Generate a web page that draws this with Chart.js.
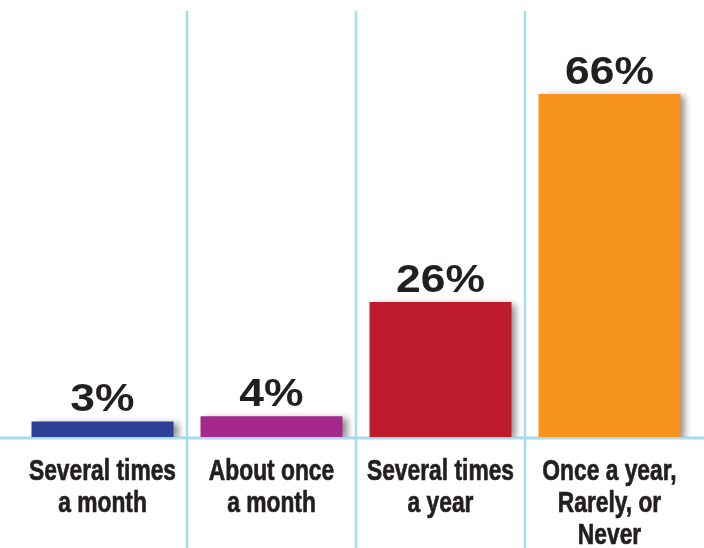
<!DOCTYPE html>
<html>
<head>
<meta charset="utf-8">
<script src="https://cdn.jsdelivr.net/npm/chart.js@4/dist/chart.umd.min.js"></script>
<style>
  html, body { margin: 0; padding: 0; background: #ffffff; }
  #wrap { width: 704px; height: 548px; position: relative; }
</style>
</head>
<body>
<div id="wrap"><canvas id="c" width="704" height="548"></canvas></div>
<script>
const categories = [
  ["Several times", "a month"],
  ["About once", "a month"],
  ["Several times", "a year"],
  ["Once a year,", "Rarely, or", "Never"]
];
const values = [3, 4, 26, 66];
const valueLabels = ["3%", "4%", "26%", "66%"];
const barColors = ["#2e3f97", "#a3298d", "#be1c2d", "#f7941d"];

const gridBlue = "#a9dbf0";
const textColor = "#231f20";

const decorPlugin = {
  id: "decor",
  beforeDatasetsDraw(chart) {
    const ctx = chart.ctx;
    const xs = chart.scales.x;
    const area = chart.chartArea;
    ctx.save();
    ctx.strokeStyle = gridBlue;
    ctx.lineWidth = 2.5;
    for (let i = 1; i < categories.length; i++) {
      const x = Math.round((xs.getPixelForValue(i - 1) + xs.getPixelForValue(i)) / 2);
      ctx.beginPath();
      ctx.moveTo(x, area.top);
      ctx.lineTo(x, chart.height);
      ctx.stroke();
    }
    ctx.lineWidth = 3;
    ctx.beginPath();
    ctx.moveTo(0, area.bottom + 1);
    ctx.lineTo(chart.width, area.bottom + 1);
    ctx.stroke();
    ctx.restore();

    // category labels (condensed look)
    ctx.save();
    ctx.fillStyle = textColor;
    ctx.strokeStyle = textColor;
    ctx.lineWidth = 0.7;
    ctx.font = "bold 30px 'Liberation Sans', Arial, sans-serif";
    ctx.textAlign = "center";
    ctx.textBaseline = "alphabetic";
    const sx = 0.76;
    const meta = chart.getDatasetMeta(0);
    categories.forEach((lines, i) => {
      const cx = meta.data[i] ? meta.data[i].x : xs.getPixelForValue(i);
      lines.forEach((line, k) => {
        ctx.save();
        ctx.translate(cx, area.bottom + 43 + 32 * k);
        ctx.scale(sx, 1);
        ctx.fillText(line, 0, 0);
        ctx.strokeText(line, 0, 0);
        ctx.restore();
      });
    });
    ctx.restore();

    // shadow for bars
    ctx.save();
    ctx.shadowColor = "rgba(0,0,0,0.45)";
    ctx.shadowBlur = 7;
    ctx.shadowOffsetX = 5;
    ctx.shadowOffsetY = 2;
  },
  afterDatasetsDraw(chart) {
    const ctx = chart.ctx;
    ctx.restore();
    const meta = chart.getDatasetMeta(0);
    ctx.save();
    ctx.fillStyle = textColor;
    ctx.font = "bold 38px 'Liberation Sans', Arial, sans-serif";
    ctx.textAlign = "center";
    ctx.textBaseline = "alphabetic";
    meta.data.forEach((bar, i) => {
      ctx.save();
      ctx.translate(bar.x, bar.y - 10);
      ctx.scale(1.17, 1);
      ctx.fillText(valueLabels[i], 0, 0);
      ctx.restore();
    });
    ctx.restore();
  }
};

new Chart(document.getElementById("c"), {
  type: "bar",
  data: {
    labels: categories,
    datasets: [{
      data: values,
      backgroundColor: barColors,
      borderWidth: 0,
      categoryPercentage: 0.84,
      barPercentage: 1.0
    }]
  },
  options: {
    responsive: false,
    animation: false,
    events: [],
    layout: { padding: { left: 18, right: 10, top: 11, bottom: 0 } },
    plugins: {
      legend: { display: false },
      tooltip: { enabled: false },
      title: { display: false }
    },
    scales: {
      x: {
        offset: true,
        grid: { display: false, drawTicks: false },
        border: { display: false },
        afterFit(scale) { scale.height = 111; },
        ticks: { display: false }
      },
      y: {
        display: false,
        min: 0,
        max: 82
      }
    }
  },
  plugins: [decorPlugin]
});
</script>
</body>
</html>
